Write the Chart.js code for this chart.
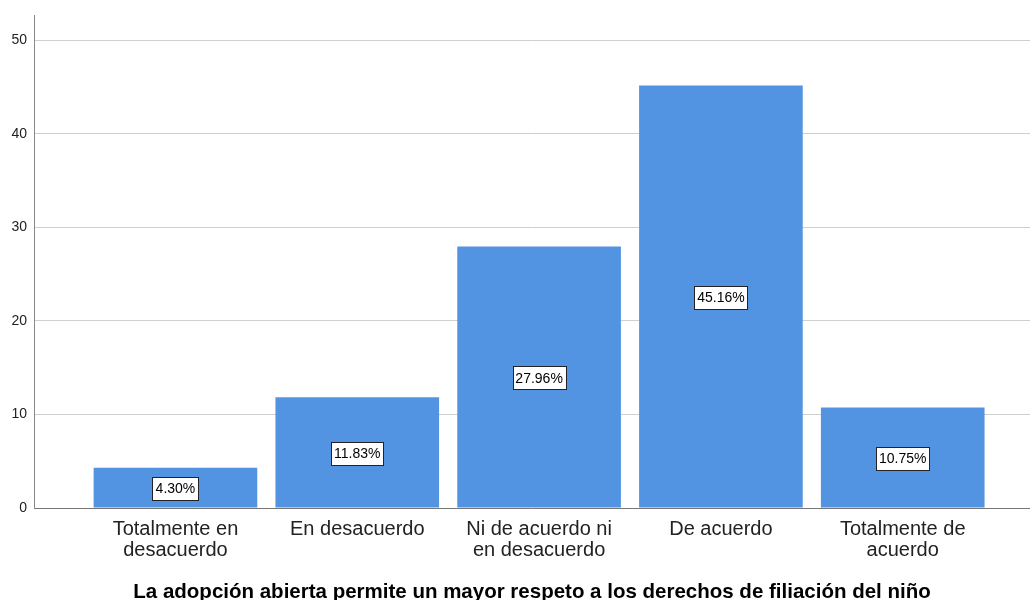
<!DOCTYPE html>
<html>
<head>
<meta charset="utf-8">
<script src="https://cdn.jsdelivr.net/npm/chart.js@4/dist/chart.umd.min.js"></script>
<style>
    html, body { margin: 0; padding: 0; background: #fff; }
    #wrap { width: 1030px; height: 600px; }
</style>
</head>
<body>
<div id="wrap"><canvas id="chart" width="1030" height="600"></canvas></div>
<script>
const categories = [
    ['Totalmente en', 'desacuerdo'],
    ['En desacuerdo'],
    ['Ni de acuerdo ni', 'en desacuerdo'],
    ['De acuerdo'],
    ['Totalmente de', 'acuerdo']
];
const percents = [4.30, 11.83, 27.96, 45.16, 10.75];
const yTicks = [0, 10, 20, 30, 40, 50];
const axisTitle = 'La adopción abierta permite un mayor respeto a los derechos de filiación del niño';

const FONT = 'Arial, "Liberation Sans", sans-serif';

// boxed percentage labels in the middle of each bar
const boxLabels = {
    id: 'boxLabels',
    afterDatasetsDraw(chart) {
        const ctx = chart.ctx;
        const meta = chart.getDatasetMeta(0);
        ctx.save();
        ctx.font = '14px ' + FONT;
        ctx.textAlign = 'center';
        ctx.textBaseline = 'middle';
        meta.data.forEach((bar, i) => {
            const text = percents[i].toFixed(2) + '%';
            const cy = (bar.y + bar.base) / 2 + 1;
            const w = Math.round(ctx.measureText(text).width + 6);
            const h = 23;
            const bx = Math.round(bar.x - w / 2) + 0.5;
            const by = Math.round(cy - h / 2) + 0.5;
            ctx.fillStyle = '#fff';
            ctx.fillRect(bx, by, w, h);
            ctx.strokeStyle = '#222';
            ctx.lineWidth = 1;
            ctx.strokeRect(bx, by, w, h);
            ctx.fillStyle = '#000';
            ctx.fillText(text, bar.x, cy + 1);
        });
        ctx.restore();
    }
};

new Chart(document.getElementById('chart'), {
    type: 'bar',
    data: {
        datasets: [{
            data: categories.map((c, i) => ({ x: i + 1, y: percents[i] })),
            backgroundColor: '#5294e2',
            borderWidth: 0,
            barPercentage: 0.9,
            categoryPercentage: 1
        }]
    },
    options: {
        responsive: false,
        animation: false,
        events: [],
        layout: { padding: { top: 13, right: 0, left: 0, bottom: 0 } },
        plugins: {
            legend: { display: false },
            tooltip: { enabled: false }
        },
        scales: {
            x: {
                type: 'linear',
                offset: false,
                min: 0.222,
                max: 5.70,
                afterBuildTicks: (scale) => {
                    scale.ticks = categories.map((c, i) => ({ value: i + 1 }));
                },
                afterFit: (scale) => {
                    scale.height = 92;
                    scale.paddingLeft = 0;
                    scale.paddingRight = 0;
                },
                grid: { display: false, drawTicks: false },
                border: { display: true, color: '#777', width: 1 },
                ticks: {
                    autoSkip: false,
                    maxRotation: 0,
                    padding: 11,
                    color: '#222',
                    font: { family: FONT, size: 20, lineHeight: 1.05 },
                    callback: (v) => categories[v - 1] || ''
                },
                title: {
                    display: true,
                    text: axisTitle,
                    color: '#000',
                    font: { family: FONT, size: 20.5, weight: 'bold', lineHeight: 1.0 },
                    padding: { top: 0, bottom: -3 }
                }
            },
            y: {
                min: 0,
                max: 52.66,
                afterBuildTicks: (scale) => {
                    scale.ticks = yTicks.map(v => ({ value: v }));
                },
                afterFit: (scale) => { scale.width = 34; },
                grid: { color: '#cfcfcf', lineWidth: 1, drawTicks: false },
                border: { display: true, color: '#888', width: 1 },
                ticks: {
                    padding: 7,
                    color: '#222',
                    font: { family: FONT, size: 14 }
                }
            }
        }
    },
    plugins: [boxLabels]
});
</script>
</body>
</html>
